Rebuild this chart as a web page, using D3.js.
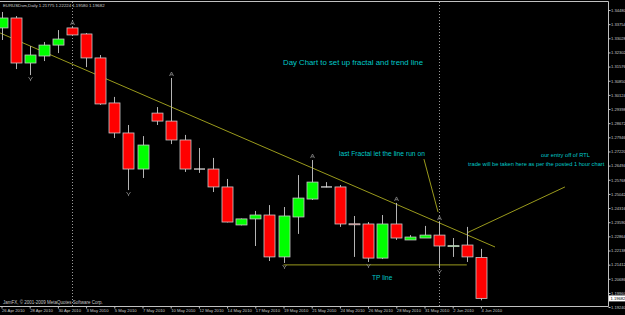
<!DOCTYPE html>
<html>
<head>
<meta charset="utf-8">
<script src="https://cdn.jsdelivr.net/npm/d3@7"></script>
<style>
  body { margin: 0; background: #000; }
  svg { display: block; }
</style>
</head>
<body>
<div id="chart"></div>
<script>
// daily bars, the broker feed has short Sunday bars
var dates = ["26 Apr 2010","27 Apr 2010","28 Apr 2010","29 Apr 2010","30 Apr 2010",
    "2 May 2010","3 May 2010","4 May 2010","5 May 2010","6 May 2010","7 May 2010",
    "9 May 2010","10 May 2010","11 May 2010","12 May 2010","13 May 2010","14 May 2010",
    "16 May 2010","17 May 2010","18 May 2010","19 May 2010","20 May 2010","21 May 2010",
    "23 May 2010","24 May 2010","25 May 2010","26 May 2010","27 May 2010","28 May 2010",
    "30 May 2010","31 May 2010","1 Jun 2010","2 Jun 2010","3 Jun 2010","4 Jun 2010"];

var opens  = [1.3356,1.3407,1.3176,1.3212,1.3268,1.3356,1.3325,1.3202,1.2971,1.2817,1.2632,
    1.2919,1.2878,1.2781,1.2632,1.2632,1.2540,1.2345,1.2376,1.2396,1.2181,1.2386,1.2478,
    1.2540,1.2540,1.2351,1.2350,1.2175,1.2350,1.2268,1.2278,1.2293,1.2237,1.2242,1.21775];
var highs  = [1.3438,1.3417,1.3263,1.3284,1.3345,1.3361,1.3330,1.3217,1.3002,1.2858,1.2801,
    1.2950,1.3099,1.2807,1.2740,1.2689,1.2581,1.2378,1.2417,1.2447,1.2437,1.2601,1.2678,
    1.2565,1.2550,1.2391,1.2360,1.2396,1.2458,1.2293,1.2340,1.2360,1.2278,1.2335,1.22224];
var lows   = [1.3294,1.3145,1.3114,1.3186,1.3227,1.3318,1.3155,1.2961,1.2791,1.2524,1.2586,
    1.2858,1.2760,1.2617,1.2612,1.2514,1.2358,1.2343,1.2237,1.2160,1.2150,1.2299,1.2473,
    1.2538,1.2335,1.2181,1.2155,1.2170,1.2268,1.2268,1.2278,1.2124,1.2181,1.2155,1.19580];
var closes = [1.3407,1.3176,1.3217,1.3268,1.3299,1.3320,1.3202,1.2966,1.2817,1.2632,1.2755,
    1.2878,1.2781,1.2632,1.2632,1.2540,1.2360,1.2376,1.2396,1.2181,1.2391,1.2483,1.2565,
    1.2540,1.2350,1.2349,1.2175,1.2350,1.2278,1.2283,1.2293,1.2237,1.2239,1.2181,1.19682];

var priceTicks = [1.34480,1.33754,1.33028,1.32302,1.31576,1.30850,1.30124,1.29398,1.28672,
    1.27946,1.27220,1.26494,1.25768,1.25042,1.24316,1.23590,1.22864,1.22138,1.21412,
    1.20686,1.19960,1.19240];
var dateTicks = d3.range(0, 35, 2);

var upFractals = [5, 12, 22, 28, 31];
var downFractals = [2, 9, 20, 26, 31];
var separators = [5, 31];   // first bar of May and June

// hand drawn objects, [bar, price]
var trendLine = [[-0.1, 1.3330], [35, 1.2232]];
var tpLine = [[20, 1.2140], [33, 1.2140]];
var pointerLine = [[29.96, 1.2683], [30.96, 1.2411]];
var entryLine = [[33, 1.2304], [39.96, 1.2540]];

var lastPrice = 1.19682;
var title = "EURUSDsm,Daily  1.21775 1.22224 1.19580 1.19682";

var W = 625, H = 315;
var plot = {left: 0, top: 2, right: 608, bottom: 306};

var x = d3.scaleLinear().domain([0, 34]).range([1.5, 1.5 + 34 * 14.1]);
var y = d3.scaleLinear().domain([1.19240, 1.34480]).range([307, 10]);

var svg = d3.select("#chart").append("svg")
    .attr("width", W)
    .attr("height", H)
    .style("font-family", "'Liberation Sans', Arial, sans-serif");

svg.append("rect").attr("width", W).attr("height", H).attr("fill", "#000");

svg.append("clipPath").attr("id", "plotclip")
    .append("rect")
    .attr("x", plot.left).attr("y", plot.top)
    .attr("width", plot.right - plot.left).attr("height", plot.bottom - plot.top);

var g = svg.append("g").attr("clip-path", "url(#plotclip)");

// period separators
g.selectAll(".sep")
    .data(separators)
    .enter().append("line")
    .attr("class", "sep")
    .attr("x1", function (d) { return Math.round(x(d)) + 0.5; })
    .attr("x2", function (d) { return Math.round(x(d)) + 0.5; })
    .attr("y1", plot.top).attr("y2", plot.bottom)
    .attr("stroke", "#9a9a9a")
    .attr("stroke-width", 1)
    .attr("stroke-dasharray", "1,2");

var line = d3.line()
    .x(function (d) { return x(d[0]); })
    .y(function (d) { return y(d[1]); });

[trendLine, tpLine, pointerLine, entryLine].forEach(function (pts) {
    g.append("path")
        .datum(pts)
        .attr("d", line)
        .attr("fill", "none")
        .attr("stroke", "#9a9a1c")
        .attr("stroke-width", 1);
});

var bars = d3.range(dates.length);

// wicks
g.selectAll(".wick")
    .data(bars)
    .enter().append("line")
    .attr("class", "wick")
    .attr("x1", function (i) { return Math.round(x(i)) + 0.5; })
    .attr("x2", function (i) { return Math.round(x(i)) + 0.5; })
    .attr("y1", function (i) { return y(highs[i]); })
    .attr("y2", function (i) { return y(lows[i]); })
    .attr("stroke", "#b4b4b4")
    .attr("stroke-width", 1);

// bodies
g.selectAll(".body")
    .data(bars.filter(function (i) { return opens[i] !== closes[i]; }))
    .enter().append("rect")
    .attr("class", "body")
    .attr("x", function (i) { return Math.round(x(i)) - 5; })
    .attr("width", 11)
    .attr("y", function (i) { return y(Math.max(opens[i], closes[i])); })
    .attr("height", function (i) {
        return Math.max(1, Math.abs(y(opens[i]) - y(closes[i])));
    })
    .attr("fill", function (i) { return closes[i] > opens[i] ? "#00ff00" : "#ff0000"; })
    .attr("stroke", "#c8c8c8")
    .attr("stroke-width", 0.8);

// dojis
g.selectAll(".doji")
    .data(bars.filter(function (i) { return opens[i] === closes[i]; }))
    .enter().append("line")
    .attr("class", "doji")
    .attr("x1", function (i) { return Math.round(x(i)) - 5; })
    .attr("x2", function (i) { return Math.round(x(i)) + 6; })
    .attr("y1", function (i) { return y(opens[i]); })
    .attr("y2", function (i) { return y(opens[i]); })
    .attr("stroke", "#e8e8e8")
    .attr("stroke-width", 1.2);

// fractal arrows
g.selectAll(".fup")
    .data(upFractals)
    .enter().append("path")
    .attr("class", "fup")
    .attr("transform", function (i) {
        return "translate(" + (Math.round(x(i)) + 0.5) + "," + (y(highs[i]) - 4) + ")";
    })
    .attr("d", "M-2,2L0,-2L2,2M-1.2,0.8H1.2")
    .attr("fill", "none")
    .attr("stroke", "#8c8c8c")
    .attr("stroke-width", 0.8);

g.selectAll(".fdn")
    .data(downFractals)
    .enter().append("path")
    .attr("class", "fdn")
    .attr("transform", function (i) {
        return "translate(" + (Math.round(x(i)) + 0.5) + "," + (y(lows[i]) + 4) + ")";
    })
    .attr("d", "M-2,-2L0,0.8L2,-2M0,0.8V2")
    .attr("fill", "none")
    .attr("stroke", "#8c8c8c")
    .attr("stroke-width", 0.8);

// frame
svg.append("path")
    .attr("d", "M0," + (plot.top - 0.5) + "H" + (plot.right + 0.5) +
        "V" + (plot.bottom + 0.5) + "H0")
    .attr("fill", "none")
    .attr("stroke", "#c0c0c0")
    .attr("stroke-width", 1);

// price axis
var yAxis = svg.append("g")
    .attr("transform", "translate(" + (plot.right + 0.5) + ",0)")
    .call(d3.axisRight(y).tickValues(priceTicks).tickSize(2).tickPadding(0.5)
        .tickFormat(d3.format(".5f")));
yAxis.select(".domain").remove();
yAxis.selectAll("line").attr("stroke", "#c0c0c0");
yAxis.selectAll("text").attr("fill", "#c8c8c8").style("font-size", "4.1px");

// date axis
var xAxis = svg.append("g")
    .attr("transform", "translate(0," + (plot.bottom + 0.5) + ")")
    .call(d3.axisBottom(x).tickValues(dateTicks).tickSize(2).tickPadding(1)
        .tickFormat(function (i) { return dates[i]; }));
xAxis.select(".domain").remove();
xAxis.selectAll("line").attr("stroke", "#c0c0c0");
xAxis.selectAll("text")
    .attr("fill", "#c8c8c8")
    .attr("text-anchor", "start")
    .attr("x", 0)
    .style("font-size", "4.2px");

// current price marker
var lp = svg.append("g").attr("transform", "translate(" + (plot.right + 1) + "," + y(lastPrice) + ")");
lp.append("rect").attr("x", 0).attr("y", -3).attr("width", 16).attr("height", 6).attr("fill", "#fff");
lp.append("text").attr("x", 1.5).attr("y", 1.5).attr("fill", "#000")
    .style("font-size", "4.1px").text(d3.format(".5f")(lastPrice));

// header and footer
svg.append("text").attr("x", 3).attr("y", 7)
    .attr("fill", "#d0d0d0").style("font-size", "4.3px").text(title);
svg.append("text").attr("x", 3).attr("y", 304)
    .attr("fill", "#c8c8c8").style("font-size", "4.5px")
    .text("JamFX, \u00a9 2001-2009 MetaQuotes Software Corp.");

// notes on the chart
var notes = [
    {t: "Day Chart to set up fractal and trend line", x: 283, y: 65, s: 7.8},
    {t: "last Fractal let the line run on", x: 339, y: 156, s: 6.7},
    {t: "TP line", x: 372, y: 280, s: 6.6},
    {t: "our entry off of RTL", x: 541, y: 157, s: 5.7},
    {t: "trade will be taken here as per the posted 1 hour chart", x: 468, y: 166, s: 5.7}
];
svg.selectAll(".note")
    .data(notes)
    .enter().append("text")
    .attr("class", "note")
    .attr("x", function (d) { return d.x; })
    .attr("y", function (d) { return d.y; })
    .attr("fill", "#00c8c8")
    .style("font-size", function (d) { return d.s + "px"; })
    .text(function (d) { return d.t; });
</script>
</body>
</html>
